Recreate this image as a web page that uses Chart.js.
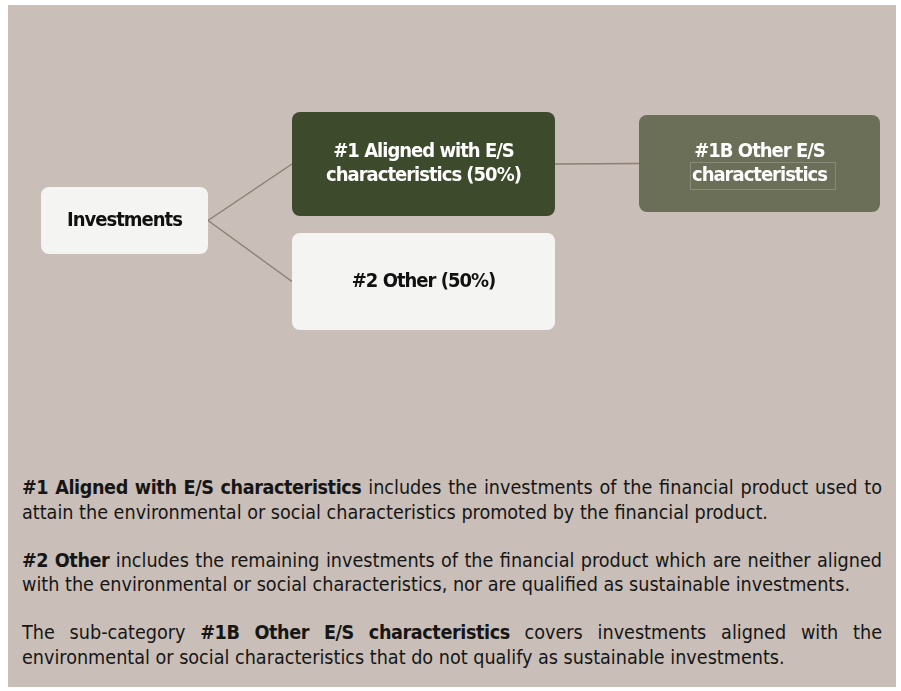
<!DOCTYPE html>
<html>
<head>
<meta charset="utf-8">
<script src="https://cdn.jsdelivr.net/npm/chart.js@4.4.1/dist/chart.umd.min.js"></script>
<style>
  html, body { margin: 0; padding: 0; background: #ffffff; }
  #panel {
    position: absolute; left: 8px; top: 5px; width: 888px; height: 682px;
    background: #c9beb8;
  }
  #diagram { position: absolute; left: 0; top: 0; }
  #notes {
    position: absolute; left: 14px; top: 471px; width: 860px;
    font-family: "DejaVu Sans", sans-serif; font-stretch: condensed;
    font-size: 19.6px; line-height: 24.5px; color: #161616;
  }
  #notes p { margin: 0 0 23.5px 0; text-align: justify; }
  #notes b { font-weight: bold; letter-spacing: -0.4px; }
</style>
</head>
<body>
<div id="panel">
  <canvas id="diagram" width="888" height="430"></canvas>
  <div id="notes">
    <p><b>#1 Aligned with E/S characteristics</b> includes the investments of the financial product used to attain the environmental or social characteristics promoted by the financial product.</p>
    <p><b>#2 Other</b> includes the remaining investments of the financial product which are neither aligned with the environmental or social characteristics, nor are qualified as sustainable investments.</p>
    <p>The sub-category <b>#1B Other E/S characteristics</b> covers investments aligned with the environmental or social characteristics that do not qualify as sustainable investments.</p>
  </div>
</div>
<script>
// Diagram nodes (centre and size in diagram units)
const nodeLabels = ['Investments', '#1 Aligned with E/S\ncharacteristics (50%)', '#2 Other (50%)', '#1B Other E/S\ncharacteristics'];
const nodeX = [116.5, 415.5, 415.5, 751.5];
const nodeY = [215.5, 159, 276.5, 158.5];
const nodeW = [167, 263, 263, 241];
const nodeH = [67, 104, 97, 97];
// Links: [from, to]
const links = [[0, 1], [0, 2], [1, 3]];

const nodeFill = ['#f4f4f2', '#3d4a2b', '#f4f4f2', '#6b6f58'];
const nodeText = ['#111111', '#ffffff', '#111111', '#ffffff'];

// one line dataset per link: right edge of source to left edge of target
const linkSets = links.map(([a, b]) => ({
    data: [
        { x: nodeX[a] + nodeW[a] / 2, y: nodeY[a] },
        { x: nodeX[b] - nodeW[b] / 2, y: nodeY[b] }
    ],
    showLine: true,
    borderColor: '#8c7f75',
    borderWidth: 1.5,
    pointRadius: 0
}));

// Draw the boxes and their labels on top of the connectors
const boxPlugin = {
    id: 'boxes',
    afterDatasetsDraw(chart) {
        const { ctx, scales: { x, y } } = chart;
        ctx.save();
        nodeLabels.forEach((label, i) => {
            const left = x.getPixelForValue(nodeX[i] - nodeW[i] / 2);
            const right = x.getPixelForValue(nodeX[i] + nodeW[i] / 2);
            const top = y.getPixelForValue(nodeY[i] - nodeH[i] / 2);
            const bottom = y.getPixelForValue(nodeY[i] + nodeH[i] / 2);
            ctx.beginPath();
            ctx.roundRect(left, top, right - left, bottom - top, 8);
            ctx.fillStyle = nodeFill[i];
            ctx.fill();

            const lines = label.split('\n');
            const cx = (left + right) / 2;
            const cy = (top + bottom) / 2;
            const lh = 24;
            ctx.font = 'bold 20px "DejaVu Sans", sans-serif';
            ctx.fontStretch = 'condensed';
            ctx.letterSpacing = '-1px';
            ctx.fillStyle = nodeText[i];
            ctx.textAlign = 'center';
            ctx.textBaseline = 'middle';
            lines.forEach((ln, k) => {
                const ty = cy + (k - (lines.length - 1) / 2) * lh;
                ctx.fillText(ln, cx, ty);
                // faint leftover text-frame around the last line of #1B
                if (i === 3 && k === 1) {
                    const w = ctx.measureText(ln).width;
                    ctx.strokeStyle = 'rgba(255,255,255,0.2)';
                    ctx.lineWidth = 1;
                    ctx.strokeRect(Math.round(cx - w / 2) - 1.5, Math.round(ty) - 13.5, Math.round(w) + 10, 27);
                }
            });
        });
        ctx.restore();
    }
};

new Chart(document.getElementById('diagram'), {
    type: 'scatter',
    data: { datasets: linkSets },
    options: {
        responsive: false,
        animation: false,
        layout: { padding: 0 },
        plugins: { legend: { display: false }, tooltip: { enabled: false } },
        scales: {
            x: { type: 'linear', min: 0, max: 888, display: false },
            y: { type: 'linear', min: 0, max: 430, reverse: true, display: false }
        }
    },
    plugins: [boxPlugin]
});
</script>
</body>
</html>
